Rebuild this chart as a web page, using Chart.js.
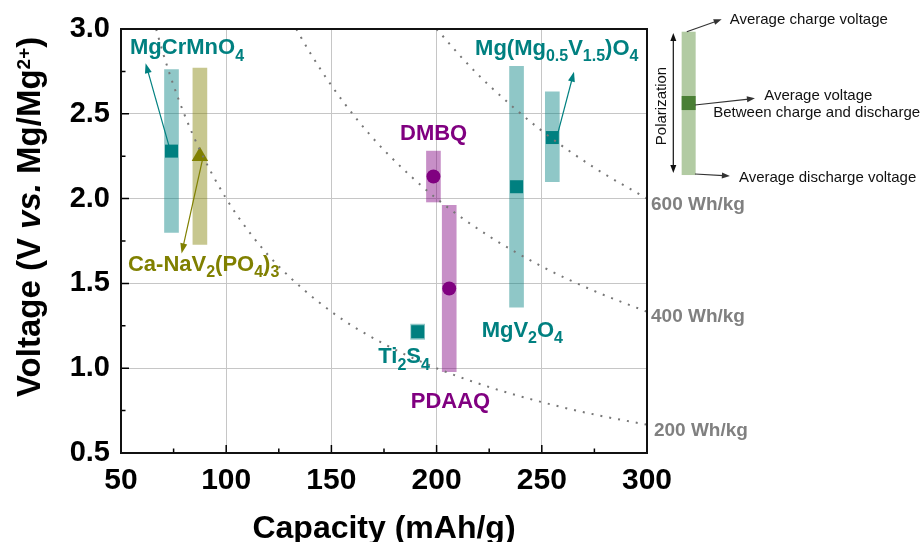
<!DOCTYPE html>
<html><head><meta charset="utf-8">
<script src="https://cdn.jsdelivr.net/npm/chart.js@4.4.0/dist/chart.umd.min.js"></script>
<style>html,body{margin:0;padding:0;background:#fff;overflow:hidden}#wrap{width:922px;height:542px}</style>
</head><body><div id="wrap"><canvas id="c" width="922" height="542"></canvas></div>
<script>
// ---------- data ----------
const materials = ['MgCrMnO4', 'Ca-NaV2(PO4)3', 'DMBQ', 'PDAAQ', 'Ti2S4', 'MgV2O4', 'Mg(Mg0.5V1.5)O4'];
const capacity   = [74, 87.5, 198.5, 206, 191, 238, 255];
const chargeV    = [2.76, 2.77, 2.28, 1.96, 1.26, 2.78, 2.63];
const dischargeV = [1.80, 1.73, 1.98, 0.98, 1.17, 1.36, 2.10];
const averageV   = [2.28, 2.25, 2.13, 1.47, 1.215, 2.07, 2.36];
const family     = ['teal', 'olive', 'purple', 'purple', 'teal', 'teal', 'teal'];

const xTicks = [50, 100, 150, 200, 250, 300];
const yTicks = [0.5, 1.0, 1.5, 2.0, 2.5, 3.0];

// iso-energy guide lines (Wh/kg)
const e200C = [66.7, 70, 75, 80, 87.5, 100, 112.5, 125, 150, 175, 200, 225, 250, 275, 300];
const e200V = [3.0, 2.857, 2.667, 2.5, 2.286, 2.0, 1.778, 1.6, 1.333, 1.143, 1.0, 0.889, 0.8, 0.727, 0.667];
const e400C = [133.3, 140, 150, 162.5, 175, 200, 225, 250, 275, 300];
const e400V = [3.0, 2.857, 2.667, 2.462, 2.286, 2.0, 1.778, 1.6, 1.455, 1.333];
const e600C = [200, 212.5, 225, 250, 275, 300];
const e600V = [3.0, 2.824, 2.667, 2.4, 2.182, 2.0];
const energyLabels = ['600 Wh/kg', '400 Wh/kg', '200 Wh/kg'];
const energyLabelC = [301.9, 301.9, 303.3];
const energyLabelV = [1.933, 1.274, 0.600];

// material label anchors (capacity, voltage) and rich text parts (0 normal, 1 subscript)
const labelParts = [
  [['MgCrMnO',0],['4',1]],
  [['Ca-NaV',0],['2',1],['(PO',0],['4',1],[')',0],['3',1]],
  [['DMBQ',0]],
  [['PDAAQ',0]],
  [['Ti',0],['2',1],['S',0],['4',1]],
  [['MgV',0],['2',1],['O',0],['4',1]],
  [['Mg(Mg',0],['0.5',1],['V',0],['1.5',1],[')O',0],['4',1]]
];
const labelC = [54.3, 53.3, 182.6, 187.7, 172.3, 221.4, 218.3];
const labelV = [2.851, 1.573, 2.346, 0.764, 1.029, 1.186, 2.847];

// pointer arrows: material index, from (C,V) to arrow head (C,V)
const pointerMat = [0, 1, 6];
const pointerFromC = [72.9, 88.6, 257.6];
const pointerFromV = [2.306, 2.223, 2.385];
const pointerToC   = [61.7, 78.8, 265.3];
const pointerToV   = [2.798, 1.677, 2.748];

// explanatory key (in chart data units, right of plot)
const keyC = 319.8, keyTopV = 2.984, keyBottomV = 2.139, keyMidTopV = 2.605, keyMidBottomV = 2.522;
const keyArrowC = 312.5, keyArrowTopV = 2.976, keyArrowBottomV = 2.151;
const keyPolarC = 307.0, keyPolarV = 2.546;
const keyTexts = ['Average charge voltage', 'Average voltage', 'Between charge and discharge', 'Average discharge voltage'];
const keyTextC = [339.3, 355.7, 331.5, 343.7];
const keyTextV = [3.053, 2.607, 2.503, 2.120];
const keyPtrFromC = [318.9, 322.8, 322.8];
const keyPtrFromV = [2.984, 2.552, 2.145];
const keyPtrToC   = [335.5, 351.3, 339.4];
const keyPtrToV   = [3.057, 2.591, 2.133];

// ---------- styles ----------
const FONT = "'Liberation Sans', Arial, Helvetica, sans-serif";
const dark = {teal: '#008080', olive: '#808000', purple: '#800080'};
const light = {teal: 'rgba(0,128,128,0.44)', olive: 'rgba(128,128,0,0.44)', purple: 'rgba(128,0,128,0.44)'};
const markerStyle = {teal: ['rect', 9.2], olive: ['triangle', 9.5], purple: ['circle', 7]};

Chart.defaults.font.family = FONT;

const datasets = [];
['teal', 'olive', 'purple'].forEach(f => {
  const idx = family.map((g, i) => g === f ? i : -1).filter(i => i >= 0);
  datasets.push({
    type: 'bar', order: 3, grouped: false, barThickness: 14, borderWidth: 0, borderSkipped: false,
    backgroundColor: light[f],
    data: idx.map(i => ({x: capacity[i], y: [dischargeV[i], chargeV[i]]}))
  });
  datasets.push({
    type: 'scatter', order: 2, showLine: false,
    pointStyle: markerStyle[f][0], pointRadius: markerStyle[f][1], pointHoverRadius: markerStyle[f][1],
    backgroundColor: dark[f], borderColor: dark[f], borderWidth: 0,
    data: idx.map(i => ({x: capacity[i], y: averageV[i]}))
  });
});
[[e200C, e200V], [e400C, e400V], [e600C, e600V]].forEach(([cs, vs]) => {
  datasets.push({
    type: 'line', order: 1, data: cs.map((c, i) => ({x: c, y: vs[i]})),
    borderColor: '#777', borderWidth: 2, borderDash: [2, 7], pointRadius: 0,
    cubicInterpolationMode: 'monotone', fill: false
  });
});

function drawRich(ctx, segs, x, y, color, size, subSize, measureOnly) {
  let cx = x;
  for (const [t, k] of segs) {
    const sz = (k === 1 || k === 2) ? subSize : size;
    ctx.font = (k === 3 ? 'italic ' : '') + 'bold ' + sz + 'px ' + FONT;
    const dy = k === 1 ? subSize * 0.4 : (k === 2 ? -size * 0.3 : 0);
    if (!measureOnly) { ctx.fillStyle = color; ctx.fillText(t, cx, y + dy); }
    cx += ctx.measureText(t).width;
  }
  return cx - x;
}
function arrow(ctx, x1, y1, x2, y2, color, lw, hl, hw) {
  const a = Math.atan2(y2 - y1, x2 - x1);
  ctx.save();
  ctx.strokeStyle = color; ctx.fillStyle = color; ctx.lineWidth = lw;
  ctx.beginPath(); ctx.moveTo(x1, y1);
  ctx.lineTo(x2 - Math.cos(a) * hl * 0.8, y2 - Math.sin(a) * hl * 0.8); ctx.stroke();
  ctx.beginPath(); ctx.moveTo(x2, y2);
  ctx.lineTo(x2 - Math.cos(a) * hl + Math.sin(a) * hw / 2, y2 - Math.sin(a) * hl - Math.cos(a) * hw / 2);
  ctx.lineTo(x2 - Math.cos(a) * hl - Math.sin(a) * hw / 2, y2 - Math.sin(a) * hl + Math.cos(a) * hw / 2);
  ctx.closePath(); ctx.fill();
  ctx.restore();
}

const decor = {
  id: 'decor',
  afterDatasetsDraw(chart) {
    const {ctx, chartArea: a, scales: {x, y}} = chart;
    ctx.save();
    // inward ticks on left and bottom
    ctx.strokeStyle = '#000'; ctx.lineWidth = 1.5;
    ctx.beginPath();
    for (let i = 0; i < xTicks.length; i++) {
      const px = x.getPixelForValue(xTicks[i]);
      ctx.moveTo(px, a.bottom); ctx.lineTo(px, a.bottom - 8);
      if (i < xTicks.length - 1) {
        const pm = x.getPixelForValue((xTicks[i] + xTicks[i + 1]) / 2);
        ctx.moveTo(pm, a.bottom); ctx.lineTo(pm, a.bottom - 4.5);
      }
    }
    for (let i = 0; i < yTicks.length; i++) {
      const py = y.getPixelForValue(yTicks[i]);
      ctx.moveTo(a.left, py); ctx.lineTo(a.left + 8, py);
      if (i < yTicks.length - 1) {
        const pm = y.getPixelForValue((yTicks[i] + yTicks[i + 1]) / 2);
        ctx.moveTo(a.left, pm); ctx.lineTo(a.left + 4.5, pm);
      }
    }
    ctx.stroke();
    // frame
    ctx.lineWidth = 2; ctx.strokeStyle = '#111';
    ctx.strokeRect(a.left, a.top, a.right - a.left, a.bottom - a.top);
    ctx.restore();
  },
  afterDraw(chart) {
    const {ctx, chartArea: a, scales: {x, y}} = chart;
    ctx.save();
    ctx.textAlign = 'left'; ctx.textBaseline = 'alphabetic';
    // material labels
    labelParts.forEach((segs, i) => {
      drawRich(ctx, segs, x.getPixelForValue(labelC[i]), y.getPixelForValue(labelV[i]), dark[family[i]], 22, 16);
    });
    // pointers
    pointerMat.forEach((m, i) => {
      arrow(ctx, x.getPixelForValue(pointerFromC[i]), y.getPixelForValue(pointerFromV[i]),
        x.getPixelForValue(pointerToC[i]), y.getPixelForValue(pointerToV[i]), dark[family[m]], 1.2, 10, 7);
    });
    // energy labels
    ctx.font = 'bold 19px ' + FONT; ctx.fillStyle = '#808080';
    energyLabels.forEach((t, i) => ctx.fillText(t, x.getPixelForValue(energyLabelC[i]), y.getPixelForValue(energyLabelV[i])));

    // key
    const kx = x.getPixelForValue(keyC);
    const kt = y.getPixelForValue(keyTopV), kb = y.getPixelForValue(keyBottomV);
    ctx.fillStyle = 'rgba(84,140,50,0.45)';
    ctx.fillRect(kx - 7, kt, 14, kb - kt);
    const mt = y.getPixelForValue(keyMidTopV), mb = y.getPixelForValue(keyMidBottomV);
    ctx.fillStyle = '#4a7f35';
    ctx.fillRect(kx - 7, mt, 14, mb - mt);
    const ax = x.getPixelForValue(keyArrowC);
    const at = y.getPixelForValue(keyArrowTopV), ab = y.getPixelForValue(keyArrowBottomV);
    const amid = (at + ab) / 2;
    arrow(ctx, ax, amid, ax, at, '#111', 1.2, 8, 6);
    arrow(ctx, ax, amid, ax, ab, '#111', 1.2, 8, 6);
    keyPtrFromC.forEach((c, i) => {
      arrow(ctx, x.getPixelForValue(c), y.getPixelForValue(keyPtrFromV[i]),
        x.getPixelForValue(keyPtrToC[i]), y.getPixelForValue(keyPtrToV[i]), '#333', 1.2, 8, 6);
    });
    ctx.font = '15px ' + FONT; ctx.fillStyle = '#111'; ctx.textBaseline = 'middle';
    keyTexts.forEach((t, i) => ctx.fillText(t, x.getPixelForValue(keyTextC[i]), y.getPixelForValue(keyTextV[i])));
    ctx.save();
    ctx.translate(x.getPixelForValue(keyPolarC), y.getPixelForValue(keyPolarV));
    ctx.rotate(-Math.PI / 2); ctx.textAlign = 'center';
    ctx.fillText('Polarization', 0, 0);
    ctx.restore();

    // axis titles
    ctx.textBaseline = 'alphabetic'; ctx.textAlign = 'center'; ctx.fillStyle = '#000';
    ctx.font = 'bold 32px ' + FONT;
    ctx.fillText('Capacity (mAh/g)', (a.left + a.right) / 2, chart.height - 4);
    ctx.textAlign = 'left';
    const ySegs = [['Voltage (V ',0],['vs.',3],[' Mg/Mg',0],['2+',2],[')',0]];
    ctx.save();
    ctx.translate(40, a.bottom - 56);
    ctx.rotate(-Math.PI / 2);
    drawRich(ctx, ySegs, 0, 0, '#000', 33, 19);
    ctx.restore();
    ctx.restore();
  }
};

new Chart(document.getElementById('c'), {
  type: 'bar',
  data: {datasets},
  options: {
    responsive: false, animation: false, devicePixelRatio: 1,
    layout: {padding: {left: 0, right: 275, top: 29, bottom: 0}},
    plugins: {legend: {display: false}, tooltip: {enabled: false}},
    scales: {
      x: {
        type: 'linear', min: 50, max: 300, offset: false,
        afterFit(s) { s.height = 89; },
        afterBuildTicks(s) { s.ticks = xTicks.map(v => ({value: v})); },
        grid: {color: '#c6c6c6', lineWidth: 1, drawTicks: false, offset: false},
        border: {display: false},
        ticks: {padding: 10, color: '#000', font: {size: 30, weight: 'bold'}, maxRotation: 0, callback: v => String(v)}
      },
      y: {
        type: 'linear', min: 0.5, max: 3.0,
        afterFit(s) { s.width = 121; },
        afterBuildTicks(s) { s.ticks = yTicks.map(v => ({value: v})); },
        grid: {color: '#c6c6c6', lineWidth: 1, drawTicks: false},
        border: {display: false},
        ticks: {padding: 11, color: '#000', font: {size: 29, weight: 'bold'}, callback: v => Number(v).toFixed(1)}
      }
    }
  },
  plugins: [decor]
});
</script></body></html>
